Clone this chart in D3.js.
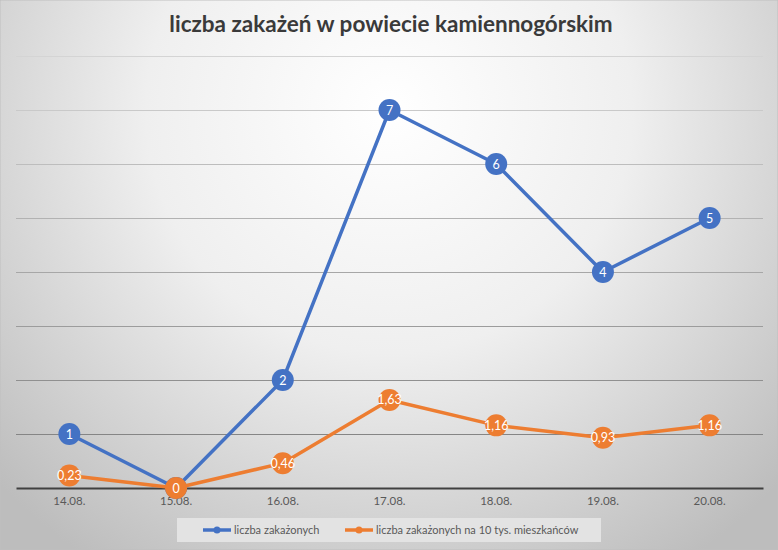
<!DOCTYPE html>
<html>
<head>
<meta charset="utf-8">
<script src="https://cdn.jsdelivr.net/npm/d3@7"></script>
<style>
  body { margin: 0; background: #fff; }
  svg text { font-family: Lato, "Open Sans", sans-serif; }
</style>
</head>
<body>
<svg id="chart"></svg>
<script>
// data
var dates = ["14.08.", "15.08.", "16.08.", "17.08.", "18.08.", "19.08.", "20.08."];
var cases = [1, 0, 2, 7, 6, 4, 5];
var casesPer10k = [0.23, 0, 0.46, 1.63, 1.16, 0.93, 1.16];
var labelsPer10k = ["0,23", "0", "0,46", "1,63", "1,16", "0,93", "1,16"];
var seriesNames = ["liczba zakażonych", "liczba zakażonych na 10 tys. mieszkańców"];
var title = "liczba zakażeń w powiecie kamiennogórskim";

var width = 778, height = 550;
var blue = "#4472c4", orange = "#ed7d31";

var svg = d3.select("#chart").attr("width", width).attr("height", height);

// background gradient like the excel style
var defs = svg.append("defs");
var grad = defs.append("radialGradient")
    .attr("id", "bg")
    .attr("gradientUnits", "userSpaceOnUse")
    .attr("cx", 389).attr("cy", 110).attr("r", 540);
grad.append("stop").attr("offset", "0%").attr("stop-color", "#ffffff");
grad.append("stop").attr("offset", "45%").attr("stop-color", "#efefef");
grad.append("stop").attr("offset", "100%").attr("stop-color", "#bdbdbd");

svg.append("rect")
    .attr("x", 0).attr("y", 0)
    .attr("width", width).attr("height", height)
    .attr("fill", "url(#bg)")
    .attr("stroke", "#bfbfbf").attr("stroke-width", 1);

svg.append("text")
    .attr("x", 391).attr("y", 32)
    .attr("text-anchor", "middle")
    .attr("font-size", 22.5)
    .attr("font-weight", "bold")
    .attr("fill", "#3a3a3a")
    .text(title);

var x = d3.scaleBand().domain(dates).range([16, 763]);
var y = d3.scaleLinear().domain([0, 8]).range([488, 56]);

// gridlines, darker towards the bottom
var gridColor = d3.scaleLinear().domain([8, 1]).range(["#d4d4d4", "#858585"]);
svg.append("g")
    .selectAll("line")
    .data(d3.range(1, 9))
    .enter().append("line")
    .attr("x1", 16).attr("x2", 763)
    .attr("y1", function (d) { return y(d) + 0.5 })
    .attr("y2", function (d) { return y(d) + 0.5 })
    .attr("stroke", function (d) { return gridColor(d) })
    .attr("stroke-width", 1);

var xAxis = svg.append("g")
    .attr("transform", "translate(0," + y(0) + ")")
    .call(d3.axisBottom(x).tickSize(0).tickPadding(9));
xAxis.select(".domain").attr("stroke", "#404040").attr("stroke-width", 2.2);
xAxis.selectAll("text")
    .attr("font-size", 11.5)
    .attr("fill", "#595959")
    .style("font-family", "Lato, sans-serif");

function cx(d, i) { return x(dates[i]) + x.bandwidth() / 2 }

function drawSeries(values, labels, color) {
    var line = d3.line()
        .x(function (d, i) { return cx(d, i) })
        .y(function (d) { return y(d) });
    svg.append("path")
        .datum(values)
        .attr("d", line)
        .attr("fill", "none")
        .attr("stroke", color)
        .attr("stroke-width", 3.5)
        .attr("stroke-linejoin", "round");
    var g = svg.append("g");
    g.selectAll("circle")
        .data(values)
        .enter().append("circle")
        .attr("cx", cx)
        .attr("cy", function (d) { return y(d) })
        .attr("r", 11)
        .attr("fill", color);
    g.selectAll("text")
        .data(values)
        .enter().append("text")
        .attr("x", cx)
        .attr("y", function (d) { return y(d) + 4.5 })
        .attr("text-anchor", "middle")
        .attr("font-size", 12.5)
        .attr("fill", "#ffffff")
        .text(function (d, i) { return labels[i] });
}

drawSeries(cases, cases.map(String), blue);
drawSeries(casesPer10k, labelsPer10k, orange);

// legend
var legend = svg.append("g");
legend.append("rect")
    .attr("x", 177).attr("y", 518)
    .attr("width", 424).attr("height", 24)
    .attr("fill", "#e3e3e3");
var legendItems = [
    { name: seriesNames[0], color: blue, x0: 203 },
    { name: seriesNames[1], color: orange, x0: 345 }
];
var li = legend.selectAll("g.item")
    .data(legendItems)
    .enter().append("g").attr("class", "item");
li.append("line")
    .attr("x1", function (d) { return d.x0 })
    .attr("x2", function (d) { return d.x0 + 28 })
    .attr("y1", 530).attr("y2", 530)
    .attr("stroke", function (d) { return d.color })
    .attr("stroke-width", 3.5);
li.append("circle")
    .attr("cx", function (d) { return d.x0 + 14 })
    .attr("cy", 530).attr("r", 3.5)
    .attr("fill", function (d) { return d.color });
li.append("text")
    .attr("x", function (d) { return d.x0 + 31 })
    .attr("y", 534)
    .attr("font-size", 11)
    .attr("fill", "#595959")
    .text(function (d) { return d.name });
</script>
</body>
</html>
